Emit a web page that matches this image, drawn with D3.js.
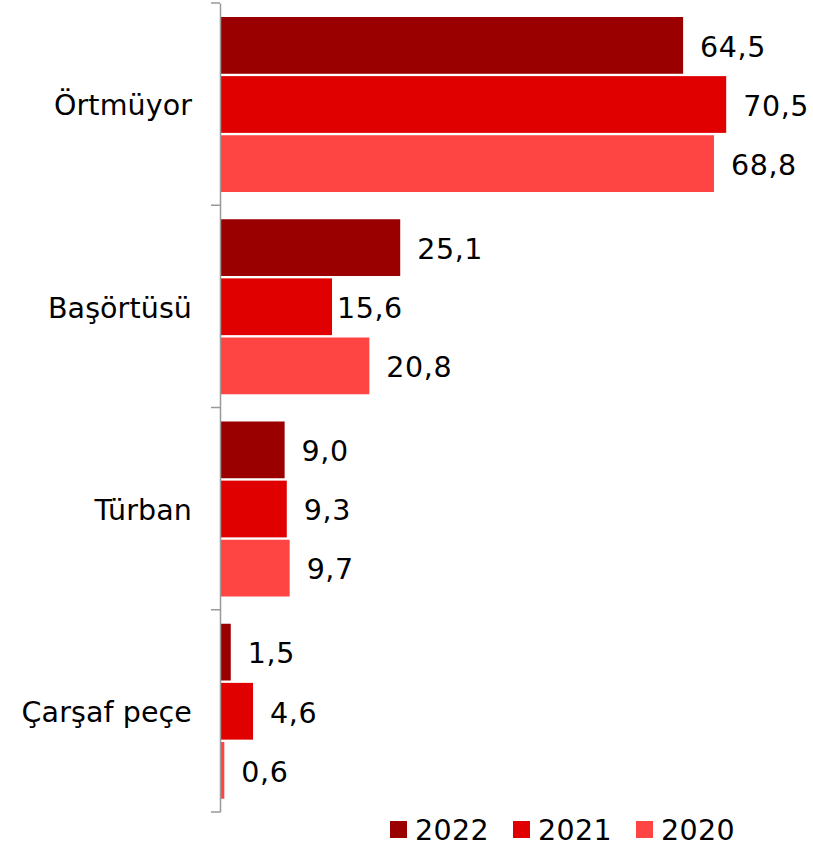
<!DOCTYPE html>
<html><head><meta charset="utf-8">
<script src="https://cdn.jsdelivr.net/npm/d3@7"></script>
<style>body{margin:0;background:#fff;}svg{display:block;font-family:Verdana,"DejaVu Sans",sans-serif;}</style>
</head><body>
<script>
const categories = ["Örtmüyor","Başörtüsü","Türban","Çarşaf peçe"];
const seriesNames = ["2022","2021","2020"];
const values2022 = [64.5, 25.1, 9.0, 1.5];
const values2021 = [70.5, 15.6, 9.3, 4.6];
const values2020 = [68.8, 20.8, 9.7, 0.6];
const colors = ["#9b0000","#e00000","#ff4444"];

const W = 813, H = 846;
const svg = d3.select("body").append("svg").attr("width",W).attr("height",H);
const x = d3.scaleLinear().domain([0,80]).range([220, 220+80*7.18]);
const y = d3.scaleBand().domain(categories).range([3, 812]).paddingInner(0).paddingOuter(0);
const inner = d3.scaleBand().domain(seriesNames).range([14, 189]).paddingInner(0.04);
const allVals = [values2022, values2021, values2020];
const fmt = v => d3.format(".1f")(v).replace(".", ",");
const FS = 28.5;

categories.forEach((c, i) => {
  const g = svg.append("g").attr("transform", `translate(0,${y(c)})`);
  seriesNames.forEach((s, j) => {
    const v = allVals[j][i];
    g.append("rect")
      .attr("x", x(0)).attr("y", inner(s))
      .attr("width", x(v)-x(0)).attr("height", inner.bandwidth())
      .attr("fill", colors[j]);
    // the 2021 Başörtüsü label sits closer to its bar in the original
    const pad = (i === 1 && j === 1) ? 5 : 17;
    g.append("text")
      .attr("x", x(v)+pad).attr("y", inner(s)+inner.bandwidth()/2 + 1)
      .attr("dy","0.36em").attr("font-size",FS).attr("letter-spacing",0.6).attr("fill","#000")
      .text(fmt(v));
  });
});

// axis
const axis = d3.axisLeft(y).tickSize(0).tickFormat("");
const ag = svg.append("g").attr("transform",`translate(${x(0)},0)`).call(axis);
ag.select(".domain").attr("stroke","#999").attr("stroke-width",1.5);
const bounds = categories.map(c=>y(c)).concat([y.range()[1]]);
svg.selectAll("line.tk").data(bounds).join("line")
  .attr("x1", x(0)-9).attr("x2", x(0)).attr("y1", d=>d).attr("y2", d=>d)
  .attr("stroke","#999").attr("stroke-width",1.5);
svg.selectAll("text.cat").data(categories).join("text")
  .attr("x", 192).attr("y", d=>y(d)+y.bandwidth()/2 + 1)
  .attr("dy","0.36em").attr("text-anchor","end").attr("font-size",FS).attr("letter-spacing",0.1).attr("fill","#000")
  .text(d=>d);

// legend
const legX = [390, 513, 636];
seriesNames.forEach((s,j)=>{
  svg.append("rect").attr("x",legX[j]).attr("y",821).attr("width",17).attr("height",17).attr("fill",colors[j]);
  svg.append("text").attr("x",legX[j]+25).attr("y",840).attr("font-size",FS).attr("letter-spacing",0.4).attr("fill","#000").text(s);
});
</script>
</body></html>
